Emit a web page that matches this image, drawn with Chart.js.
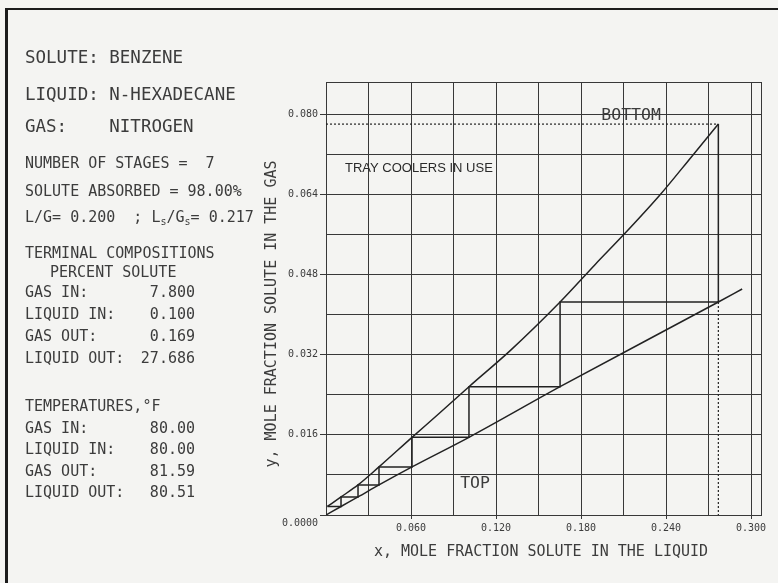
<!DOCTYPE html>
<html>
<head>
<meta charset="utf-8">
<script src="https://cdn.jsdelivr.net/npm/chart.js@4/dist/chart.umd.min.js"></script>
<style>
  html, body { margin: 0; padding: 0; background: #f4f4f2; }
  canvas { display: block; }
</style>
</head>
<body>
<canvas id="chart" width="778" height="583"></canvas>
<script>
// equilibrium curve (lower line)
var eqX = [0, 0.0106, 0.0226, 0.0374, 0.0607, 0.1009, 0.1652, 0.2769, 0.2937];
var eqY = [0, 0.0017, 0.0036, 0.0060, 0.0096, 0.0155, 0.0256, 0.0425, 0.0451];

// operating line (upper curve)
var opX = [0.001, 0.0106, 0.0226, 0.0374, 0.0607, 0.0800, 0.1009, 0.1300, 0.1652, 0.1900, 0.2100, 0.2358, 0.2583, 0.2769];
var opY = [0.0017, 0.0036, 0.0060, 0.0096, 0.0155, 0.0203, 0.0256, 0.0328, 0.0425, 0.0500, 0.0559, 0.0639, 0.0716, 0.0780];

// the 7 stages, top of column to bottom
var stairX = [0.001, 0.0106, 0.0106, 0.0226, 0.0226, 0.0374, 0.0374, 0.0607, 0.0607, 0.1009, 0.1009, 0.1652, 0.1652, 0.2769, 0.2769];
var stairY = [0.0017, 0.0017, 0.0036, 0.0036, 0.0060, 0.0060, 0.0096, 0.0096, 0.0155, 0.0155, 0.0256, 0.0256, 0.0425, 0.0425, 0.0780];

// dotted guides: gas in (y) and liquid out (x)
var gasInX = [0, 0.2769];
var gasInY = [0.078, 0.078];
var liqOutX = [0.2769, 0.2769];
var liqOutY = [0.0425, 0];

// grid + tick labels
var xGrid = [0, 0.03, 0.06, 0.09, 0.12, 0.15, 0.18, 0.21, 0.24, 0.27, 0.30, 0.307];
var yGrid = [0, 0.008, 0.016, 0.024, 0.032, 0.040, 0.048, 0.056, 0.064, 0.072, 0.080, 0.0864];
var xLabelAt = [0.06, 0.12, 0.18, 0.24, 0.30];
var xTickLabels = ['0.060', '0.120', '0.180', '0.240', '0.300'];
var yLabelAt = [0, 0.016, 0.032, 0.048, 0.064, 0.080];
var yTickLabels = ['0.0000', '0.016', '0.032', '0.048', '0.064', '0.080'];

// left panel
var headLines = ['SOLUTE: BENZENE', 'LIQUID: N-HEXADECANE', 'GAS:    NITROGEN'];
var compNames = ['GAS IN:', 'LIQUID IN:', 'GAS OUT:', 'LIQUID OUT:'];
var compPercent = ['7.800', '0.100', '0.169', '27.686'];
var tempValues = ['80.00', '80.00', '81.59', '80.51'];

var INK = '#222';
var GRID = '#383838';
var TXT = '#3c3c3c';
var MONO = '"DejaVu Sans Mono", monospace';

function labelIndex(list, v) {
  for (var i = 0; i < list.length; i++) {
    if (Math.abs(list[i] - v) < 1e-9) return i;
  }
  return -1;
}

function pts(xs, ys) {
  return xs.map(function (x, i) { return {x: x, y: ys[i]}; });
}

function line(xs, ys, opts) {
  opts = opts || {};
  return {
    data: pts(xs, ys),
    showLine: true,
    borderColor: INK,
    borderWidth: opts.dashed ? 1.2 : 1.5,
    borderDash: opts.dashed ? [2, 2] : [],
    pointRadius: 0,
    cubicInterpolationMode: opts.smooth ? 'monotone' : 'default',
    tension: 0
  };
}

const frame = {
  id: 'frame',
  beforeDraw: function (chart) {
    var ctx = chart.ctx;
    ctx.save();
    ctx.fillStyle = '#f4f4f2';
    ctx.fillRect(0, 0, chart.width, chart.height);
    ctx.fillStyle = '#1c1c1c';
    ctx.fillRect(5, 8, 3, chart.height - 8);
    ctx.fillRect(5, 8, chart.width - 5, 2);
    ctx.restore();
  },
  afterDraw: function (chart) {
    var ctx = chart.ctx;
    var xs = chart.scales.x, ys = chart.scales.y;
    ctx.save();
    ctx.fillStyle = TXT;
    ctx.textBaseline = 'middle';
    ctx.textAlign = 'left';

    ctx.font = '17.5px ' + MONO;
    ctx.fillText(headLines[0], 25, 58);
    ctx.fillText(headLines[1], 25, 95);
    ctx.fillText(headLines[2], 25, 127);

    ctx.font = '15px ' + MONO;
    ctx.fillText('NUMBER OF STAGES =  7', 25, 164);
    ctx.fillText('SOLUTE ABSORBED = 98.00%', 25, 192);

    // L/G line with subscripts
    var x = 25;
    var parts = [['L/G= 0.200  ; L', 0], ['s', 1], ['/G', 0], ['s', 1], ['= 0.217', 0]];
    parts.forEach(function (p) {
      ctx.font = (p[1] ? '10px ' : '15px ') + MONO;
      ctx.fillText(p[0], x, p[1] ? 222 : 218);
      x += ctx.measureText(p[0]).width;
    });

    ctx.font = '15px ' + MONO;
    ctx.fillText('TERMINAL COMPOSITIONS', 25, 254);
    ctx.fillText('PERCENT SOLUTE', 50, 273);
    compNames.forEach(function (n, i) {
      ctx.textAlign = 'left';
      ctx.fillText(n, 25, 293 + i * 22);
      ctx.textAlign = 'right';
      ctx.fillText(compPercent[i], 195, 293 + i * 22);
    });
    ctx.textAlign = 'left';
    ctx.fillText('TEMPERATURES,\u00b0F', 25, 407);
    compNames.forEach(function (n, i) {
      ctx.textAlign = 'left';
      ctx.fillText(n, 25, 429 + i * 21.5);
      ctx.textAlign = 'right';
      ctx.fillText(tempValues[i], 195, 429 + i * 21.5);
    });

    // axis titles
    ctx.textAlign = 'center';
    ctx.fillText('x, MOLE FRACTION SOLUTE IN THE LIQUID', 541, 552);
    ctx.save();
    ctx.translate(272, 314);
    ctx.rotate(-Math.PI / 2);
    ctx.fillText('y, MOLE FRACTION SOLUTE IN THE GAS', 0, 0);
    ctx.restore();

    // notes inside the plot
    ctx.font = '16.5px ' + MONO;
    ctx.fillText('BOTTOM', xs.getPixelForValue(0.2153), ys.getPixelForValue(0.0796));
    ctx.fillText('TOP', xs.getPixelForValue(0.1052), ys.getPixelForValue(0.0062));
    ctx.textAlign = 'left';
    ctx.fillStyle = '#2a2a2a';
    ctx.font = '13px "Liberation Sans", Arial, sans-serif';
    ctx.fillText('TRAY COOLERS IN USE', xs.getPixelForValue(0.0134), ys.getPixelForValue(0.0692));
    ctx.restore();
  }
};

new Chart(document.getElementById('chart'), {
  type: 'scatter',
  data: {
    datasets: [
      line(eqX, eqY, {smooth: true}),
      line(opX, opY, {smooth: true}),
      line(stairX, stairY),
      line(gasInX, gasInY, {dashed: true}),
      line(liqOutX, liqOutY, {dashed: true})
    ]
  },
  options: {
    responsive: false,
    animation: false,
    layout: { padding: { left: 0, top: 82, right: 17, bottom: 0 } },
    plugins: { legend: { display: false }, tooltip: { enabled: false } },
    scales: {
      x: {
        type: 'linear',
        min: 0,
        max: 0.307,
        afterBuildTicks: function (s) { s.ticks = xGrid.map(function (v) { return {value: v}; }); },
        afterFit: function (s) { s.height = 68; },
        border: { display: true, color: GRID, width: 1 },
        grid: {
          color: GRID,
          lineWidth: 1,
          tickLength: 4,
          tickColor: function (c) { return c.tick && labelIndex(xLabelAt, c.tick.value) >= 0 ? GRID : 'rgba(0,0,0,0)'; }
        },
        ticks: {
          autoSkip: false,
          maxRotation: 0,
          padding: 3,
          color: TXT,
          font: { family: MONO, size: 10 },
          callback: function (v) {
            var i = labelIndex(xLabelAt, v);
            return i >= 0 ? xTickLabels[i] : '';
          }
        }
      },
      y: {
        type: 'linear',
        min: 0,
        max: 0.0864,
        afterBuildTicks: function (s) { s.ticks = yGrid.map(function (v) { return {value: v}; }); },
        afterFit: function (s) { s.width = 326; },
        border: { display: true, color: GRID, width: 1 },
        grid: {
          color: GRID,
          lineWidth: 1,
          tickLength: 6,
          tickColor: function (c) { return c.tick && labelIndex(yLabelAt, c.tick.value) >= 0 ? GRID : 'rgba(0,0,0,0)'; }
        },
        ticks: {
          autoSkip: false,
          padding: 2,
          color: TXT,
          font: { family: MONO, size: 10, lineHeight: 1.6 },
          callback: function (v) {
            var i = labelIndex(yLabelAt, v);
            if (i < 0) return '';
            // zero label sits a little under the axis
            return v === 0 ? ['', yTickLabels[i]] : yTickLabels[i];
          }
        }
      }
    }
  },
  plugins: [frame]
});
</script>
</body>
</html>
